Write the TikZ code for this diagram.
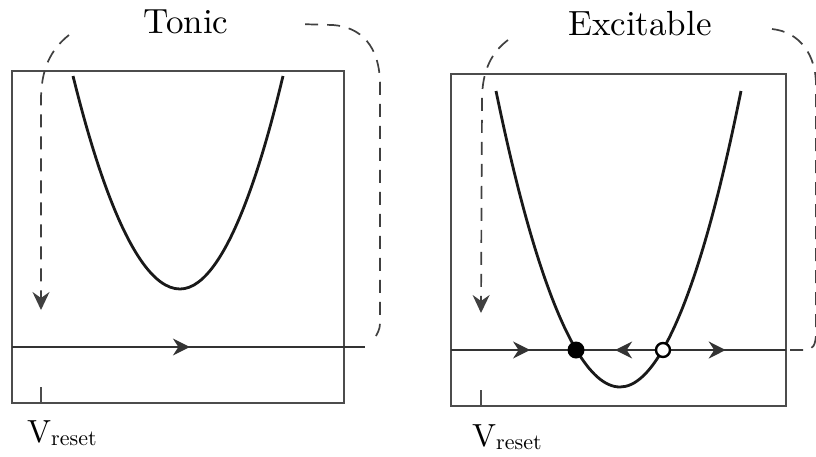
\documentclass[tikz,border=0pt]{standalone}
\usepackage{fontspec}
\usepackage{tikz}
\usetikzlibrary{arrows.meta,decorations.markings}
\newfontfamily\labelfont{lmroman10-regular.otf}

\newcommand{\Vreset}{V\raisebox{-3pt}{\fontsize{22}{26}\selectfont reset}}

\begin{document}
\begin{tikzpicture}[
    x=1pt, y=-1pt,
    panel/.style={draw=black!70, line width=1.7pt},
    nullcline/.style={draw=black!90, line width=2.8pt},
    vaxis/.style={draw=black!80, line width=1.4pt},
    resetpath/.style={draw=black!75, line width=1.7pt, dash pattern=on 13pt off 9pt},
    resetarrow/.style={-{Stealth[length=18pt,width=17pt,inset=6pt]}},
    flowright/.style={postaction={decorate, decoration={markings, mark=at position #1 with {\arrow{Stealth[length=17pt,width=17pt,inset=5.5pt]}}}}},
    flowleft/.style={postaction={decorate, decoration={markings, mark=at position #1 with {\arrowreversed{Stealth[length=17pt,width=17pt,inset=5.5pt]}}}}},
    stablept/.style={circle, fill=black, inner sep=0pt, minimum size=17pt},
    unstablept/.style={circle, draw=black, fill=white, line width=2.4pt, inner sep=0pt, minimum size=14pt},
    title/.style={font=\labelfont\fontsize{35}{40}\selectfont, anchor=base},
    vlabel/.style={font=\labelfont\fontsize{32}{36}\selectfont, anchor=base west, inner sep=0pt}
]
    \useasboundingbox (0,0) rectangle (816,456);
    \clip (0,0) rectangle (816,456);

    % Tonic panel
    \draw[panel] (12,71) rectangle (344,403);
    \draw[vaxis, flowright=0.504] (12,347) -- (365,347);
    \draw[nullcline] (73,76) parabola bend (180,289) (283,76);
    \draw[resetpath] (376,336) .. controls (380,328) .. (380,318) -- (380,85)
        .. controls (380,45) and (360,27) .. (333,25) -- (297,24);
    \draw[resetpath, resetarrow] (69,35) .. controls (50,50) and (41,70) .. (41,100) -- (41,310);
    \draw[panel] (41,387) -- (41,403);
    \node[title] (tonic) at (186,33) {Tonic};
    \node[vlabel] (reset1) at (27,442) {\Vreset};

    % Excitable panel
    \draw[panel] (451,74) rectangle (786,406);
    \draw[vaxis, flowright=0.236, flowleft=0.49, flowright=0.82] (451,350) -- (786,350);
    \draw[nullcline] (496,91) parabola bend (620,387) (741,91);
    \draw[resetpath] (790,350) -- (805,350) .. controls (813,350) and (816,345) .. (816,332)
        -- (816,85) .. controls (816,55) and (800,32) .. (772,29);
    \draw[resetpath, resetarrow] (508,40) .. controls (492,52) and (482,70) .. (482,100) -- (481,313);
    \draw[panel] (481,390) -- (481,406);
    \node[stablept] (stable) at (576,350) {};
    \node[unstablept] (unstable) at (663,350) {};
    \node[title] (excitable) at (640,35) {Excitable};
    \node[vlabel] (reset2) at (472,446) {\Vreset};
\end{tikzpicture}
\end{document}
